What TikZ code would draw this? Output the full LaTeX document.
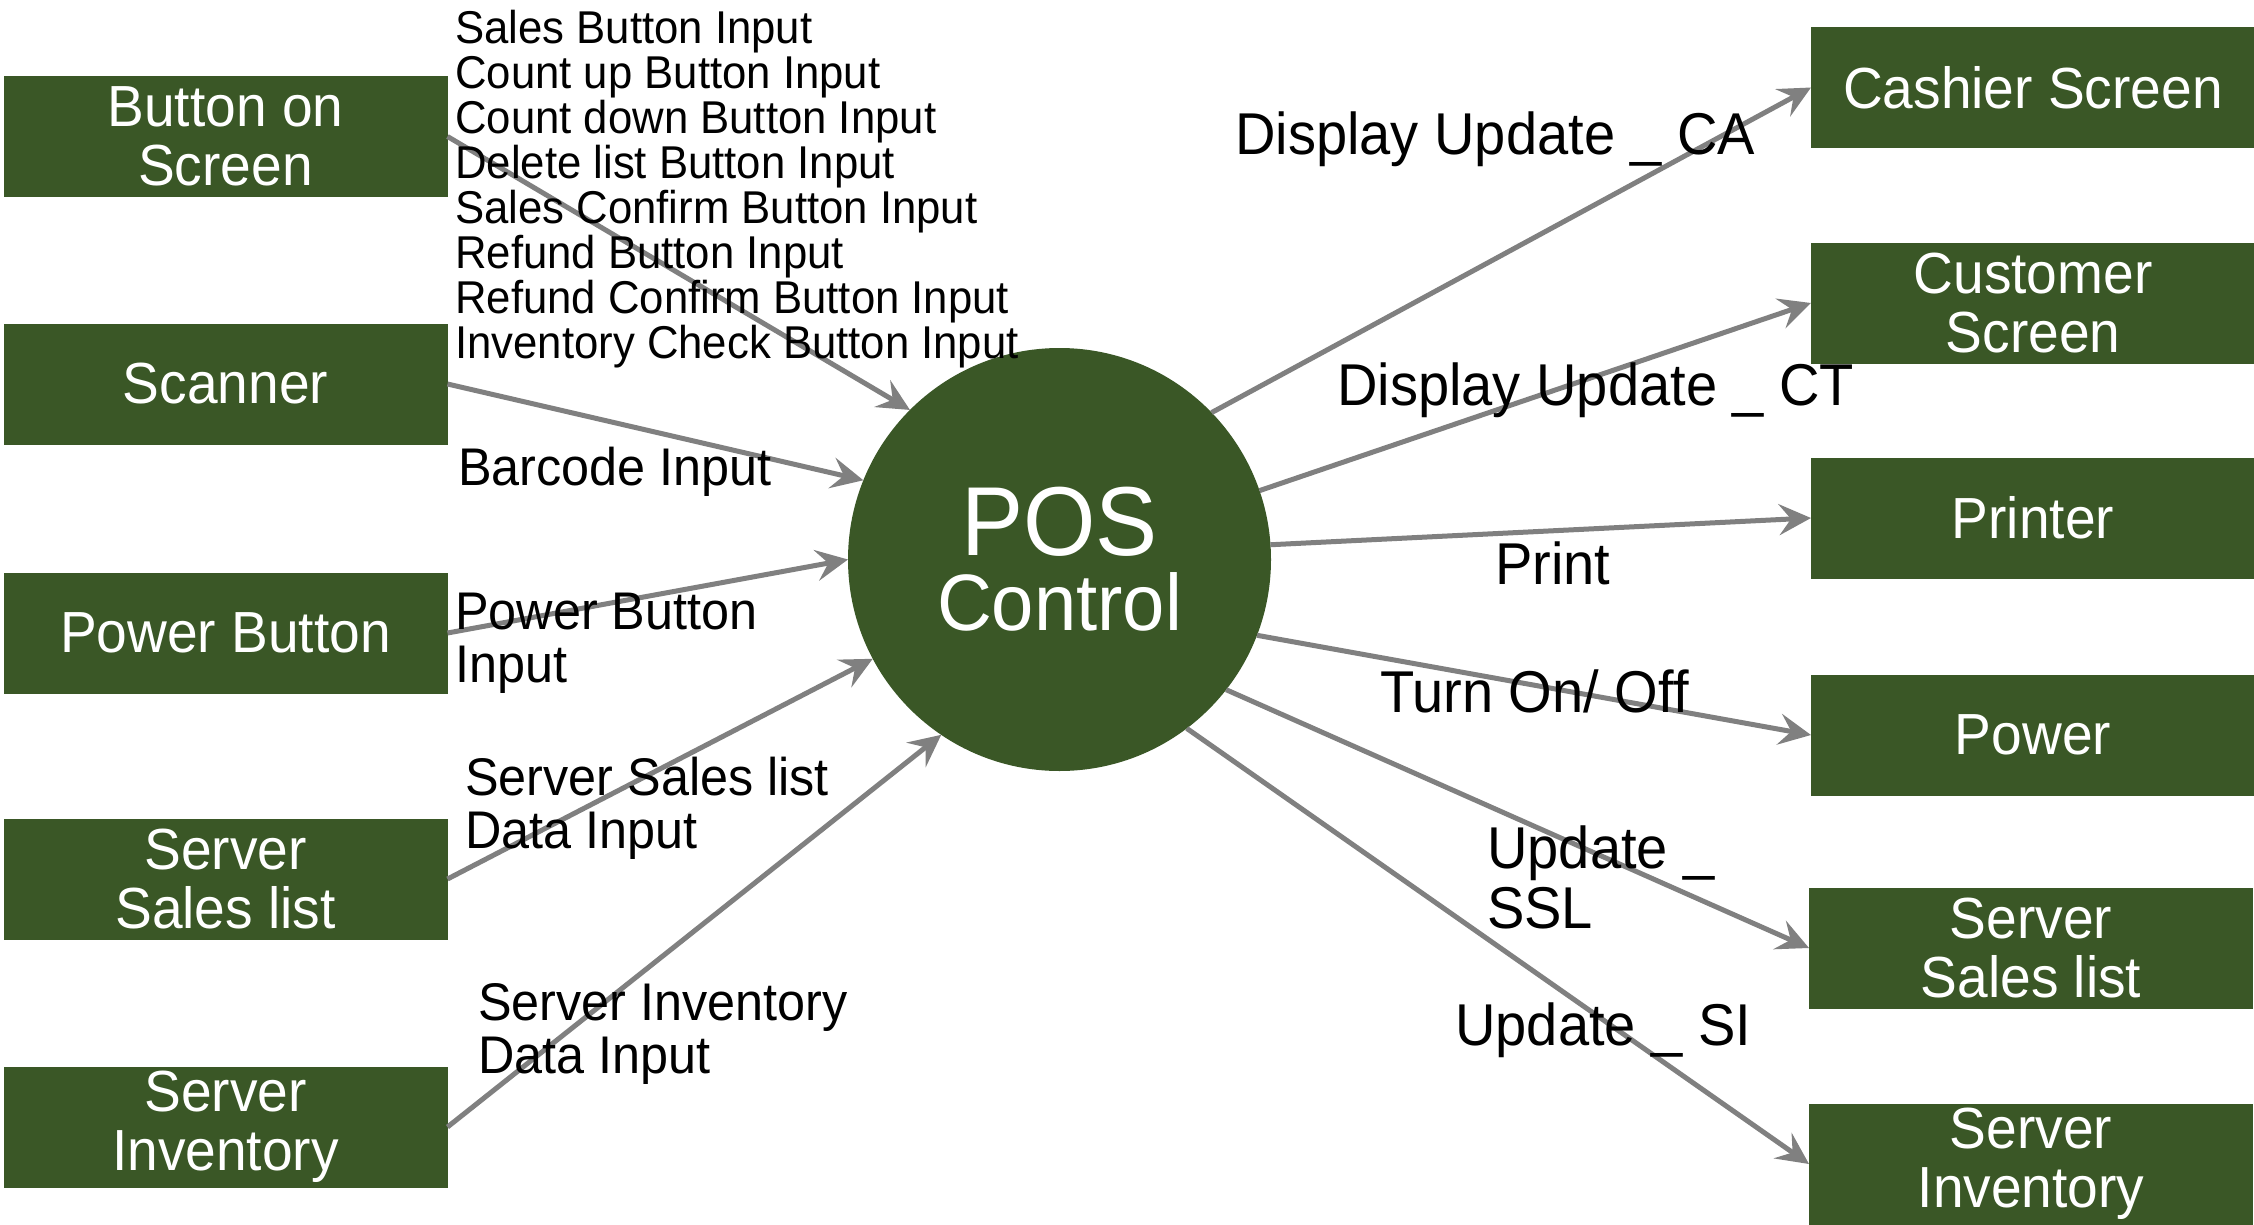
\documentclass[tikz,border=0pt]{standalone}
\usepackage{fontspec}
\setmainfont{Liberation Sans}[FakeStretch=0.95]
\usetikzlibrary{arrows.meta}
\definecolor{boxgreen}{RGB}{58,87,38}
\definecolor{arrowgray}{RGB}{128,128,128}
\begin{document}
\begin{tikzpicture}[x=1pt,y=-1pt,
  ent/.style={fill=boxgreen, text=white, minimum width=444pt, minimum height=121pt,
    inner sep=0pt, outer sep=0pt, align=center, font=\fontsize{58}{59}\selectfont},
  flow/.style={draw=arrowgray, line width=5pt,
    -{Stealth[length=32pt,width=31pt,inset=12pt]}},
  lblS/.style={anchor=base west, inner sep=0pt, align=left, font=\fontsize{46}{45}\selectfont},
  lblM/.style={anchor=base west, inner sep=0pt, align=left, font=\fontsize{53}{53}\selectfont},
  lblL/.style={anchor=base west, inner sep=0pt, align=left, font=\fontsize{59}{60}\selectfont}]
\fill[white] (0,0) rectangle (2254,1225);
\useasboundingbox (0,0) rectangle (2254,1225);

% left entities
\node[ent] (bos) at (225.5,136.5) {Button on\\Screen};
\node[ent] (scan) at (225.5,384) {Scanner};
\node[ent] (pwb) at (225.5,633) {Power Button};
\node[ent] (ssl) at (225.5,879) {Server\\Sales list};
\node[ent] (sinv) at (225.5,1127) {Server\\Inventory};

% right entities
\node[ent] (cash) at (2033,87.5) {Cashier Screen};
\node[ent] (cust) at (2033,303) {Customer\\Screen};
\node[ent] (prn) at (2033,518) {Printer};
\node[ent] (pow) at (2033,735) {Power};
\node[ent] (rssl) at (2031,948) {Server\\Sales list};
\node[ent] (rsinv) at (2031,1164) {Server\\Inventory};

% centre process
\node[circle, fill=boxgreen, text=white, minimum size=423pt, inner sep=0pt, outer sep=0pt, align=center]
  (pos) at (1059.5,559.5) {\fontsize{98}{98}\selectfont POS\\[15pt]\fontsize{80}{80}\selectfont Control};

% input flows
\draw[flow] (bos.east) -- (pos.135);
\draw[flow] (scan.east) -- (pos.158.9);
\draw[flow] (pwb.east) -- (pos.180.6);
\draw[flow] (ssl.east) -- (pos.208.6);
\draw[flow] (sinv.east) -- (pos.236.4);

% output flows
\draw[flow] (pos.44.6) -- (cash.west);
\draw[flow] (pos.19.9) -- (cust.west);
\draw[flow] (pos.4.5) -- (prn.west);
\draw[flow] (pos.-21.1) -- (pow.west);
\draw[flow] (pos.-38.5) -- (rssl.west);
\draw[flow] (pos.-53.5) -- (rsinv.west);

% labels (base anchor = baseline of last line)
\node[lblS] (lbtn) at (455,358) {Sales Button Input\\Count up Button Input\\Count down Button Input\\Delete list Button Input\\Sales Confirm Button Input\\Refund Button Input\\Refund Confirm Button Input\\Inventory Check Button Input};
\node[lblM] (lbar) at (458,485) {Barcode Input};
\node[lblM] (lpwb) at (455,682) {Power Button\\Input};
\node[lblM] (lssl) at (465,848) {Server Sales list\\Data Input};
\node[lblM] (lsinv) at (478,1073) {Server Inventory\\Data Input};

\node[lblL] (lca) at (1235,155) {Display Update \_ CA};
\node[lblL] (lct) at (1337,405) {Display Update \_ CT};
\node[lblL] (lprn) at (1495,584) {Print};
\node[lblL] (lpow) at (1380,712) {Turn On/ Off};
\node[lblL] (lussl) at (1487,928) {Update \_\\SSL};
\node[lblL] (lusi) at (1455,1045) {Update \_ SI};
\end{tikzpicture}
\end{document}
